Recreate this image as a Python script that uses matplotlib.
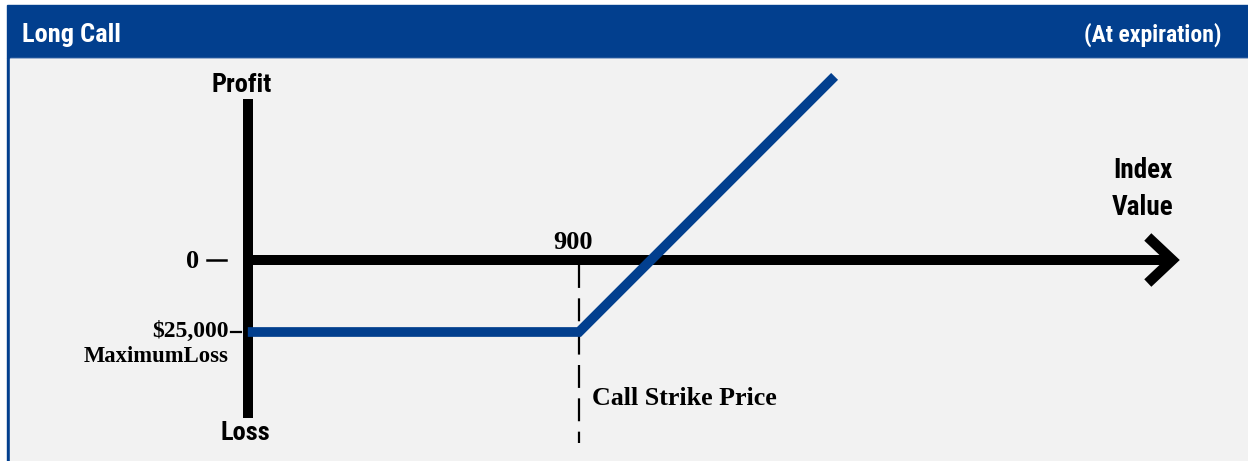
import matplotlib
matplotlib.use("Agg")
import matplotlib.pyplot as plt
from matplotlib.patches import Rectangle

# payoff data (index value vs profit in $)
index_vals = [440, 900, 1255]
profit_vals = [-25000, -25000, 63750]
strike = 900
max_loss = -25000

W, H = 1248, 461
BLUE = "#023f8e"
PANEL = "#f2f2f2"
COND = ["Liberation Sans Narrow", "Roboto Condensed", "DejaVu Sans"]
SERIF = ["Liberation Serif", "DejaVu Serif"]

plt.rcParams["lines.scale_dashes"] = False

fig = plt.figure(figsize=(W / 100, H / 100), dpi=100)
fig.patch.set_facecolor("white")


def P(x, y):
    # pixel position -> figure fraction
    return x / W, 1 - y / H


def px2idx(x):
    # pixel column -> index value (0.72 px per index point, 900 at px 579)
    return 900 + (x - 579) / 0.72


def rect(x, y, w, h, color):
    fig.patches.append(Rectangle(P(x, y + h), w / W, h / H, color=color,
                                 transform=fig.transFigure, zorder=-5))


# header band and panel
rect(7, 5, W - 7, 53, BLUE)
rect(7, 58, W - 7, H - 58, BLUE)
rect(9.5, 58, W - 9.5, 1, "#8aa3c8")
rect(9.5, 59, W - 9.5, H - 59, PANEL)

ax = fig.add_axes([0, 0, 1, 1])
ax.set_facecolor("none")
ax.axis("off")
# scale: 0.72 px per index point, 347.2 $ per px
ax.set_xlim(px2idx(0), px2idx(W))
ax.set_ylim(-69792, 90278)

# axes of the diagram
ax.plot([440, 440], [56000, -54900], color="black", lw=7.2, solid_capstyle="butt", zorder=2)
ax.plot([440, 1722], [0, 0], color="black", lw=7.2, solid_capstyle="butt", zorder=2)
ax.plot([1690, 1724, 1690], [8000, 0, -8000], color="black", lw=7.4,
        solid_capstyle="butt", solid_joinstyle="miter", zorder=2)

# strike line
ax.plot([strike, strike], [-1800, -63500], color="black", lw=1.6,
        dashes=(16.5, 7.5), zorder=1)

# payoff line
ax.plot(index_vals, profit_vals, color=BLUE, lw=7.0, solid_capstyle="butt",
        solid_joinstyle="miter", zorder=3)

# tick marks on the profit axis
ax.plot([px2idx(207), px2idx(226)], [0, 0], color="black", lw=1.8, zorder=2)
ax.plot([px2idx(231), px2idx(241)], [max_loss, max_loss], color="black", lw=1.6, zorder=2)

t = fig.transFigure
fig.text(*P(22, 42), "Long Call", color="white", fontsize=19, fontweight="bold",
         family=COND, ha="left", va="baseline", transform=t)
fig.text(*P(1222, 42), "(At expiration)", color="white", fontsize=17, fontweight="bold",
         family=COND, ha="right", va="baseline", transform=t)
fig.text(*P(242, 92), "Profit", fontsize=19, fontweight="bold", family=COND,
         ha="center", va="baseline", transform=t)
fig.text(*P(245, 440), "Loss", fontsize=19, fontweight="bold", family=COND,
         ha="center", va="baseline", transform=t)
fig.text(*P(1143, 178), "Index", fontsize=19.5, fontweight="bold", family=COND,
         ha="center", va="baseline", transform=t)
fig.text(*P(1143, 215), "Value", fontsize=19.5, fontweight="bold", family=COND,
         ha="center", va="baseline", transform=t)

fig.text(*P(573, 249), "900", fontsize=19, fontweight="bold", family=SERIF,
         ha="center", va="baseline", transform=t)
fig.text(*P(592, 405), "Call Strike Price", fontsize=18.7, fontweight="bold", family=SERIF,
         ha="left", va="baseline", transform=t)
fig.text(*P(199, 268), "0", fontsize=19, fontweight="bold", family=SERIF,
         ha="right", va="baseline", transform=t)
fig.text(*P(229, 337), "$25,000", fontsize=17, fontweight="bold", family=SERIF,
         ha="right", va="baseline", transform=t)
fig.text(*P(229, 362), "MaximumLoss", fontsize=16.3, fontweight="bold", family=SERIF,
         ha="right", va="baseline", transform=t)

fig.savefig("out.png", dpi=100)
